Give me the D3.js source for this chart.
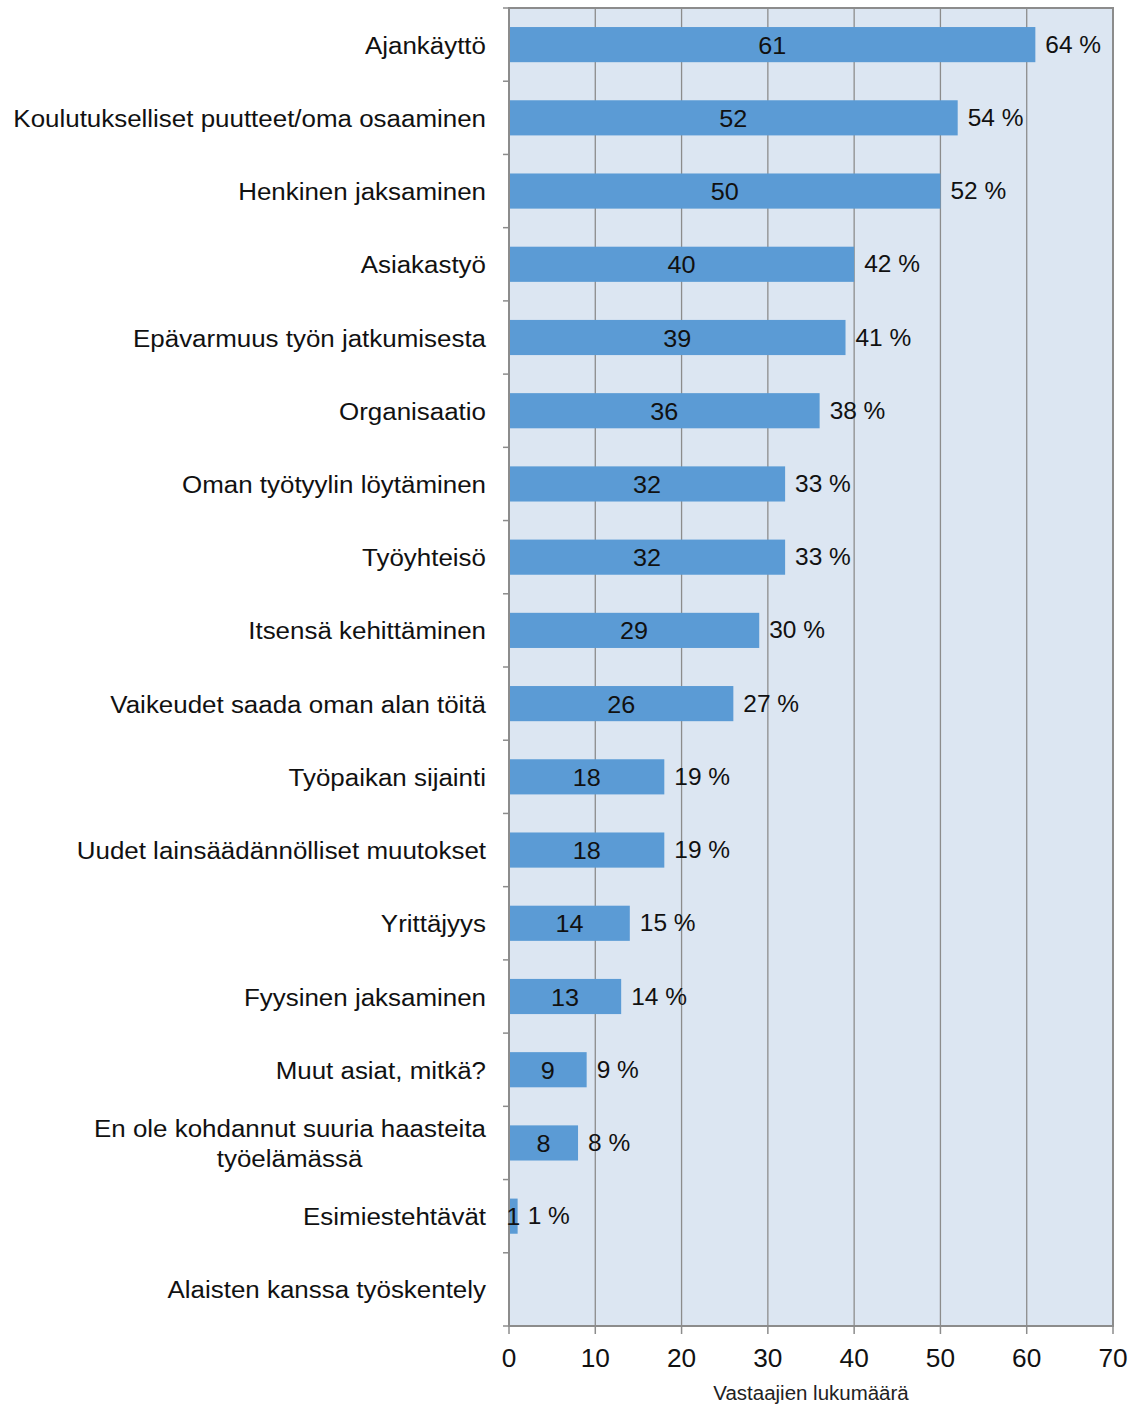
<!DOCTYPE html>
<html><head><meta charset="utf-8">
<script src="https://cdn.jsdelivr.net/npm/d3@7"></script>
<style>body{margin:0;background:#fff}svg{display:block}text{font-family:"Liberation Sans",Arial,sans-serif}</style>
</head><body>
<script>
const categories = ["Ajankäyttö","Koulutukselliset puutteet/oma osaaminen","Henkinen jaksaminen","Asiakastyö","Epävarmuus työn jatkumisesta","Organisaatio","Oman työtyylin löytäminen","Työyhteisö","Itsensä kehittäminen","Vaikeudet saada oman alan töitä","Työpaikan sijainti","Uudet lainsäädännölliset muutokset","Yrittäjyys","Fyysinen jaksaminen","Muut asiat, mitkä?","En ole kohdannut suuria haasteita työelämässä","Esimiestehtävät","Alaisten kanssa työskentely"];
const counts = [61,52,50,40,39,36,32,32,29,26,18,18,14,13,9,8,1,0];
const percents = [64,54,52,42,41,38,33,33,30,27,19,19,15,14,9,8,1,0];
const xTicks = [0,10,20,30,40,50,60,70];
const axisTitle = "Vastaajien lukumäärä";

const W = 1146, H = 1405;
const L = 509, R = 1113, T = 8, B = 1326;
const SX = 1.05;
const svg = d3.select("body").append("svg").attr("width", W).attr("height", H);
const x = d3.scaleLinear().domain([0,70]).range([L,R]);
const y = d3.scaleBand().domain(categories).range([T,B]).paddingInner(0.52).paddingOuter(0.26);

function txt(g, px, py, s, size, anchor) {
  return g.append("text").attr("transform", `translate(${px},${py}) scale(${SX},1)`)
    .attr("text-anchor", anchor || "start").attr("font-size", size).attr("fill", "#111").text(s);
}

svg.append("rect").attr("x",L).attr("y",T).attr("width",R-L).attr("height",B-T).attr("fill","#dce6f2");
svg.append("g").selectAll("line").data(xTicks.slice(1,-1)).join("line")
  .attr("x1",d=>x(d)).attr("x2",d=>x(d)).attr("y1",T).attr("y2",B)
  .attr("stroke","#8c8c8c").attr("stroke-width",1.3);
svg.append("g").selectAll("rect").data(categories).join("rect")
  .attr("x",L).attr("y",d=>y(d)).attr("height",y.bandwidth())
  .attr("width",(d,i)=>x(counts[i])-L).attr("fill","#5b9bd5");
svg.append("rect").attr("x",L).attr("y",T).attr("width",R-L).attr("height",B-T)
  .attr("fill","none").attr("stroke","#8c8c8c").attr("stroke-width",2);
const step = y.step();
const bounds = d3.range(categories.length+1).map(i=>T+i*step);
svg.append("g").selectAll("line").data(bounds).join("line")
  .attr("x1",L-6).attr("x2",L).attr("y1",d=>d).attr("y2",d=>d)
  .attr("stroke","#8c8c8c").attr("stroke-width",1.5);
svg.append("g").selectAll("line").data(xTicks).join("line")
  .attr("x1",d=>x(d)).attr("x2",d=>x(d)).attr("y1",B).attr("y2",B+8)
  .attr("stroke","#8c8c8c").attr("stroke-width",1.5);
const tg = svg.append("g");
xTicks.forEach(d => txt(tg, x(d), B+41, d, 25, "middle"));
txt(svg, (L+R)/2, 1400, axisTitle, 19.5, "middle").attr("fill","#222");

const cy = d => y(d)+y.bandwidth()/2;
const lab = svg.append("g");
categories.forEach((c,i)=>{
  if (c === "En ole kohdannut suuria haasteita työelämässä") {
    const t1 = txt(lab, 486, cy(c)-6, "En ole kohdannut suuria haasteita", 24.7, "end");
    const w = t1.node().getBBox().width * SX;
    txt(lab, 486 - w/2, cy(c)+24, "työelämässä", 24.7, "middle");
  } else {
    txt(lab, 486, cy(c)+9, c, 24.7, "end");
  }
});
const vg = svg.append("g");
categories.forEach((c,i)=>{
  if (counts[i] > 0) txt(vg, (L+x(counts[i]))/2, cy(c)+9, counts[i], 24, "middle");
  if (percents[i] > 0) txt(vg, x(counts[i])+10, cy(c)+8, percents[i]+" %", 23.3, "start");
});
</script>
</body></html>
